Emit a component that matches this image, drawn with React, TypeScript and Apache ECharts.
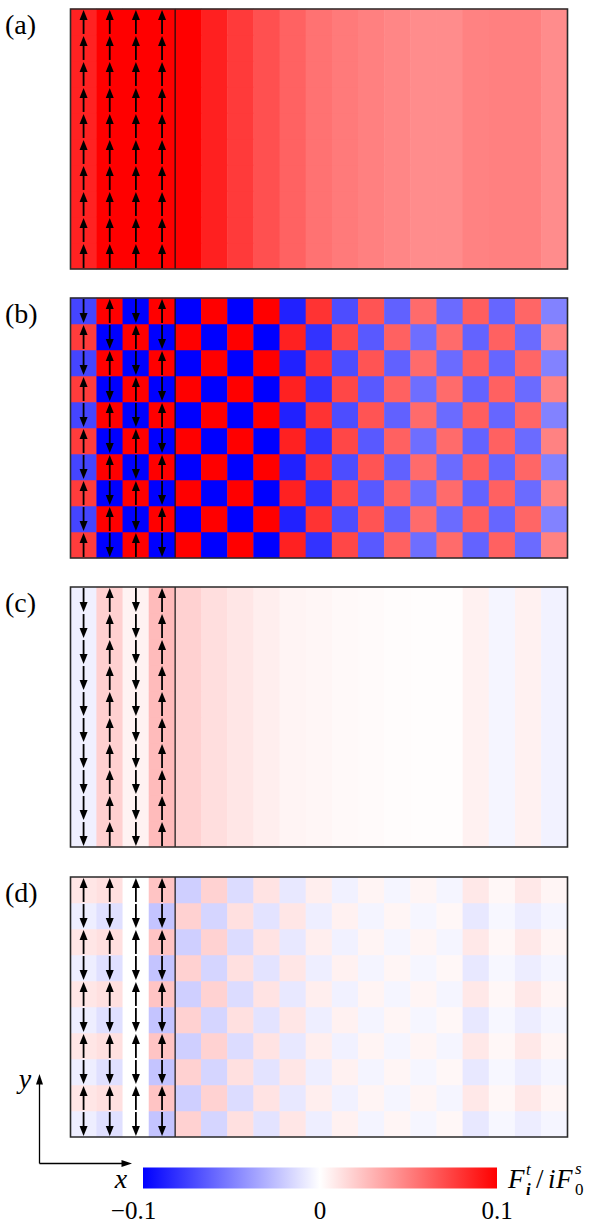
import React, { useEffect, useRef } from "react";
import * as echarts from "echarts";

// ---------- data ----------
const columnLabels = ["1", "2", "3", "4", "5", "6", "7", "8", "9", "10", "11", "12", "13", "14", "15", "16", "17", "18", "19"];
const rowLabels = ["1", "2", "3", "4", "5", "6", "7", "8", "9", "10"]; // bottom to top

// F^t_i / iF^s_0 per column. "top" = rows 10,8,6,4,2 ; "second" = rows 9,7,5,3,1 (counted from bottom)
const panelATop = [0.0867, 0.1, 0.1, 0.1, 0.1, 0.0875, 0.0773, 0.0686, 0.0616, 0.0553, 0.0522, 0.0498, 0.0475, 0.0451, 0.0451, 0.049, 0.0498, 0.0498, 0.0451];
const panelASecond = [0.0867, 0.1, 0.1, 0.1, 0.1, 0.0875, 0.0773, 0.0686, 0.0616, 0.0553, 0.0522, 0.0498, 0.0475, 0.0451, 0.0451, 0.049, 0.0498, 0.0498, 0.0451];

const panelBTop = [-0.073, 0.1, -0.1, 0.1, -0.1, 0.1, -0.1, 0.1, -0.087, 0.08, -0.07, 0.067, -0.062, 0.058, -0.058, 0.063, -0.06, 0.06, -0.049];
const panelBSecond = [0.0765, -0.1, 0.1, -0.1, 0.1, -0.1, 0.1, -0.1, 0.087, -0.08, 0.072, -0.065, 0.062, -0.057, 0.058, -0.061, 0.062, -0.058, 0.049];

const panelCTop = [-0.0059, 0.0184, 0.005, 0.0267, 0.018, 0.013, 0.0098, 0.0067, 0.0045, 0.0035, 0.0025, 0.002, 0.0012, 0.0006, 0.0006, 0.0055, -0.004, 0.0055, -0.005];
const panelCSecond = [-0.0059, 0.0184, 0.005, 0.0267, 0.018, 0.013, 0.0098, 0.0067, 0.0045, 0.0035, 0.0025, 0.002, 0.0012, 0.0006, 0.0006, 0.0055, -0.004, 0.0055, -0.005];

const panelDTop = [0.0098, 0.012, 0, 0.023, -0.0188, 0.0176, -0.0137, 0.011, -0.009, 0.0067, -0.0055, 0.0043, -0.004, 0.004, -0.0038, 0.009, 0.003, 0.009, 0.004];
const panelDSecond = [-0.0067, -0.012, 0, -0.023, 0.018, -0.0165, 0.012, -0.011, 0.0098, -0.0067, 0.0055, -0.0043, 0.004, -0.0035, 0.003, -0.009, -0.003, -0.007, -0.004];

// spin arrows in the first four columns: +1 up, -1 down
const panelAArrowsTop = [1, 1, 1, 1];
const panelAArrowsSecond = [1, 1, 1, 1];
const panelBArrowsTop = [-1, 1, -1, 1];
const panelBArrowsSecond = [1, -1, 1, -1];
const panelCArrowsTop = [-1, 1, -1, 1];
const panelCArrowsSecond = [-1, 1, -1, 1];
const panelDArrowsTop = [1, 1, 1, 1];
const panelDArrowsSecond = [-1, -1, -1, -1];

const panelLabels = ["(a)", "(b)", "(c)", "(d)"];
const colorbarTicks = [-0.1, 0, 0.1];
const colorbarTickLabels = ["−0.1", "0", "0.1"];
const colorMin = -0.1;
const colorMax = 0.1;

// ---------- layout ----------
const W = 598;
const H = 1224;
const gridLeft = 70.5;
const gridWidth = 497;
const gridHeight = 260;
const gridTops = [9, 298, 587, 877];
const SERIF = "'Liberation Serif', 'Times New Roman', serif";

function buildCells(top: number[], second: number[]) {
  const out: number[][] = [];
  const n = rowLabels.length;
  for (let r = 0; r < n; r++) {
    const fromTop = n - 1 - r;
    const src = fromTop % 2 === 0 ? top : second;
    for (let c = 0; c < columnLabels.length; c++) out.push([c, r, src[c]]);
  }
  return out;
}

function buildArrows(top: number[], second: number[]) {
  const out: number[][] = [];
  const n = rowLabels.length;
  for (let r = 0; r < n; r++) {
    const fromTop = n - 1 - r;
    const src = fromTop % 2 === 0 ? top : second;
    for (let c = 0; c < src.length; c++) out.push([c, r, src[c]]);
  }
  return out;
}

const panels = [
  { cells: buildCells(panelATop, panelASecond), arrows: buildArrows(panelAArrowsTop, panelAArrowsSecond) },
  { cells: buildCells(panelBTop, panelBSecond), arrows: buildArrows(panelBArrowsTop, panelBArrowsSecond) },
  { cells: buildCells(panelCTop, panelCSecond), arrows: buildArrows(panelCArrowsTop, panelCArrowsSecond) },
  { cells: buildCells(panelDTop, panelDSecond), arrows: buildArrows(panelDArrowsTop, panelDArrowsSecond) },
];

function arrowRender(params: any, api: any) {
  const c = api.coord([api.value(0), api.value(1)]);
  const s = api.size([1, 1]);
  const dir = api.value(2);
  const L = s[1] * 0.92;
  const head = 10;
  const hw = 4;
  const tipY = c[1] - (dir * L) / 2;
  const tailY = c[1] + (dir * L) / 2;
  const baseY = tipY + dir * head;
  return {
    type: "group",
    children: [
      {
        type: "line",
        shape: { x1: c[0], y1: tailY, x2: c[0], y2: baseY + dir * -1 },
        style: { stroke: "#000", lineWidth: 1.8 },
      },
      {
        type: "polygon",
        shape: { points: [[c[0], tipY], [c[0] - hw, baseY], [c[0] + hw, baseY]] },
        style: { fill: "#000" },
      },
    ],
  };
}

function frameRender(params: any, api: any) {
  const cs = params.coordSys;
  const p = api.coord([api.value(0), 0]);
  const s = api.size([1, 1]);
  const xd = p[0] + s[0] / 2;
  return {
    type: "group",
    children: [
      {
        type: "line",
        shape: { x1: xd, y1: cs.y, x2: xd, y2: cs.y + cs.height },
        style: { stroke: "#111", lineWidth: 1.2 },
      },
      {
        type: "rect",
        shape: { x: cs.x, y: cs.y, width: cs.width, height: cs.height },
        style: { fill: "none", stroke: "#2a2a2a", lineWidth: 1.6 },
      },
    ],
  };
}

function colorbarRender(params: any, api: any) {
  const p0 = api.coord([api.value(0), 0]);
  const p1 = api.coord([api.value(1), 1]);
  return {
    type: "rect",
    shape: { x: p0[0], y: p1[1], width: p1[0] - p0[0], height: p0[1] - p1[1] },
    style: {
      fill: new echarts.graphic.LinearGradient(0, 0, 1, 0, [
        { offset: 0, color: "#0000ff" },
        { offset: 0.5, color: "#ffffff" },
        { offset: 1, color: "#ff0000" },
      ]),
    },
  };
}

export default function App() {
  const ref = useRef<HTMLDivElement>(null);
  useEffect(() => {
    if (!ref.current) return;
    const chart = echarts.init(ref.current, undefined, { renderer: "svg", width: W, height: H });

    const grids: any[] = gridTops.map((t) => ({ left: gridLeft, top: t, width: gridWidth, height: gridHeight, show: false }));
    grids.push({ left: 143, top: 1167.5, width: 354, height: 21, show: false });

    const xAxes: any[] = gridTops.map((_, i) => ({ type: "category", gridIndex: i, data: columnLabels, show: false }));
    xAxes.push({
      type: "value",
      gridIndex: 4,
      min: colorMin,
      max: colorMax,
      interval: 0.1,
      axisLine: { show: false },
      axisTick: { show: false },
      splitLine: { show: false },
      axisLabel: {
        margin: 9,
        color: "#000",
        fontFamily: SERIF,
        fontSize: 25,
        formatter: (v: number) => {
          let best = 0;
          colorbarTicks.forEach((t, k) => {
            if (Math.abs(t - v) < Math.abs(colorbarTicks[best] - v)) best = k;
          });
          return best === 0 ? "{neg|" + colorbarTickLabels[best] + "}" : colorbarTickLabels[best];
        },
        rich: { neg: { fontFamily: SERIF, fontSize: 25, color: "#000", padding: [0, 19, 0, 0] } },
      },
    });
    const yAxes: any[] = gridTops.map((_, i) => ({ type: "category", gridIndex: i, data: rowLabels, show: false }));
    yAxes.push({ type: "value", gridIndex: 4, min: 0, max: 1, show: false });

    const series: any[] = [];
    panels.forEach((p, i) => {
      series.push({
        type: "heatmap",
        xAxisIndex: i,
        yAxisIndex: i,
        data: p.cells,
        itemStyle: { borderWidth: 0 },
        emphasis: { disabled: true },
      });
    });
    panels.forEach((p, i) => {
      series.push({ type: "custom", xAxisIndex: i, yAxisIndex: i, z: 5, data: p.arrows, renderItem: arrowRender, silent: true });
      series.push({ type: "custom", xAxisIndex: i, yAxisIndex: i, z: 6, data: [[panelAArrowsTop.length - 1, 0]], renderItem: frameRender, silent: true });
    });
    series.push({ type: "custom", xAxisIndex: 4, yAxisIndex: 4, data: [[colorMin, colorMax]], renderItem: colorbarRender, silent: true });

    const graphics: any[] = panelLabels.map((lab, i) => ({
      type: "text",
      x: 5,
      y: gridTops[i] + 15,
      style: { text: lab, fontFamily: SERIF, fontSize: 28, fill: "#000", textVerticalAlign: "middle", textAlign: "left" },
    }));
    // coordinate indicator
    graphics.push(
      { type: "line", shape: { x1: 39.5, y1: 1163.5, x2: 39.5, y2: 1083 }, style: { stroke: "#000", lineWidth: 1.3 } },
      { type: "polygon", shape: { points: [[39.5, 1074], [36, 1084.5], [43, 1084.5]] }, style: { fill: "#000" } },
      { type: "line", shape: { x1: 39.5, y1: 1163.5, x2: 123, y2: 1163.5 }, style: { stroke: "#000", lineWidth: 1.3 } },
      { type: "polygon", shape: { points: [[132, 1163.5], [121.5, 1160], [121.5, 1167]] }, style: { fill: "#000" } },
      { type: "text", x: 25, y: 1078, style: { text: "y", fontFamily: SERIF, fontStyle: "italic", fontSize: 28, fill: "#000", textAlign: "center", textVerticalAlign: "middle" } },
      { type: "text", x: 121, y: 1178, style: { text: "x", fontFamily: SERIF, fontStyle: "italic", fontSize: 28, fill: "#000", textAlign: "center", textVerticalAlign: "middle" } }
    );
    // colorbar label F^t_i / i F^s_0
    const lab = (text: string, x: number, y: number, size: number, italic = true, bold = false) => ({
      type: "text",
      x,
      y,
      style: {
        text,
        fontFamily: SERIF,
        fontStyle: italic ? "italic" : "normal",
        fontWeight: bold ? "bold" : "normal",
        fontSize: size,
        fill: "#000",
        textAlign: "left",
        textVerticalAlign: "middle",
      },
    });
    graphics.push(
      lab("F", 508, 1179, 27),
      lab("t", 526, 1169, 17),
      lab("i", 526, 1189, 17, true, true),
      lab("/", 536, 1179, 27, false),
      lab("i", 548, 1179, 27),
      lab("F", 556, 1179, 27),
      lab("s", 575, 1168, 17),
      lab("0", 575, 1189, 17, false)
    );

    chart.setOption({
      animation: false,
      backgroundColor: "#fff",
      grid: grids,
      xAxis: xAxes,
      yAxis: yAxes,
      visualMap: {
        type: "continuous",
        show: false,
        min: colorMin,
        max: colorMax,
        dimension: 2,
        seriesIndex: [0, 1, 2, 3],
        inRange: { color: ["#0000ff", "#ffffff", "#ff0000"] },
      },
      series,
      graphic: graphics,
    });
    return () => chart.dispose();
  }, []);
  return <div ref={ref} style={{ position: "absolute", left: 0, top: 0, width: W, height: H }} />;
}
